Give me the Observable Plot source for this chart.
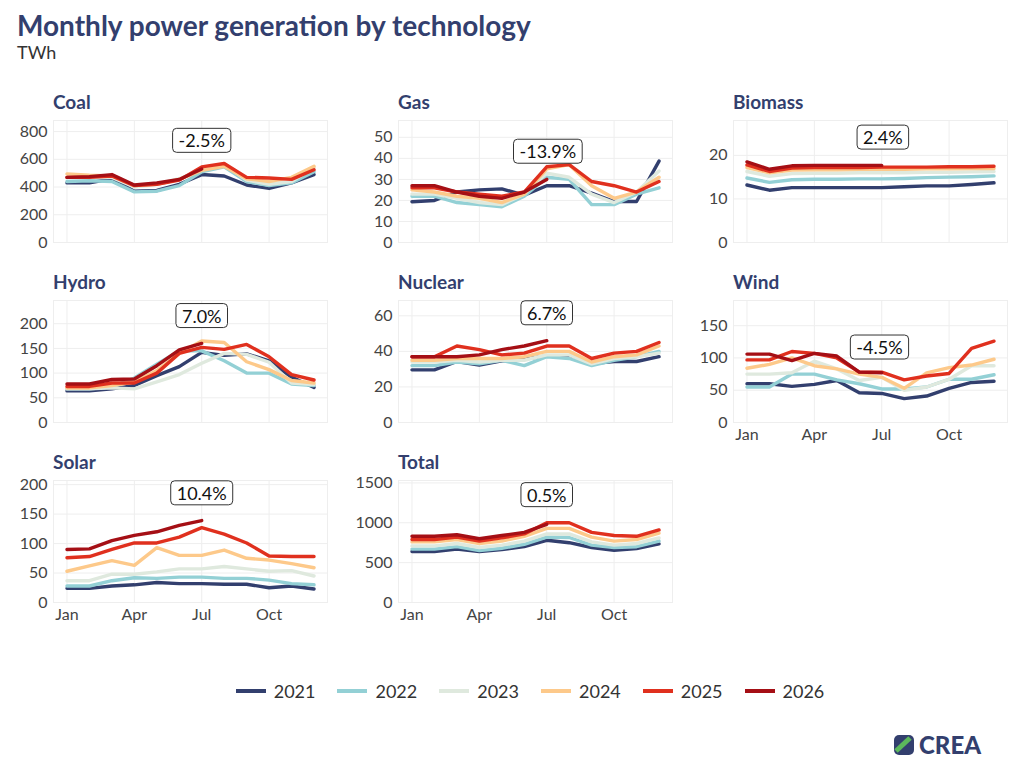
<!DOCTYPE html>
<html><head><meta charset="utf-8">
<script src="https://cdn.jsdelivr.net/npm/d3@7"></script>
<script src="https://cdn.jsdelivr.net/npm/@observablehq/plot@0.6"></script>
<style>
body{margin:0;background:#fff;font-family:Lato,"Noto Sans",sans-serif;}
#wrap{position:relative;width:1024px;height:768px;overflow:hidden;}
.abs{position:absolute;}
.ttl{font-weight:700;color:#333f6e;font-size:19px;}
</style></head><body>
<div id="wrap">
<div class="abs" style="left:17px;top:8px;font-size:28px;font-weight:700;color:#333f6e">Monthly power generation by technology</div>
<div class="abs" style="left:17px;top:41px;font-size:18px;color:#333">TWh</div>
<div id="legend" class="abs" style="left:0;width:1060px;top:680px;display:flex;justify-content:center;gap:22px;font-size:18px;color:#333"></div>
<div class="abs" style="left:893px;top:730px;display:flex;align-items:center;gap:4px;font-size:24px;font-weight:900;color:#333f6e"><svg width="22" height="22"><rect x="1" y="1" width="20" height="20" rx="5" fill="#333f6e"/><path d="M3 17 L17 4" stroke="#5cb85c" stroke-width="5"/></svg>CREA</div>
</div>
<script>
const years = ["2021","2022","2023","2024","2025","2026"];
const colors = ["#323f6e","#93d0d5","#dfe9de","#fdc98a","#e0301e","#a50f15"];
const months = ["Jan","Feb","Mar","Apr","May","Jun","Jul","Aug","Sep","Oct","Nov","Dec"];
const technologies = ["Coal","Gas","Biomass","Hydro","Nuclear","Wind","Solar","Total"];
const changeLabels = ["-2.5%","-13.9%","2.4%","7.0%","6.7%","-4.5%","10.4%","0.5%"];

const coal = [
 [430,430,460,370,375,420,490,480,415,390,430,490],
 [440,445,440,365,370,410,510,545,440,410,430,510],
 [470,470,470,400,420,460,530,560,450,420,440,540],
 [495,485,480,410,420,455,520,550,460,440,470,550],
 [470,470,480,410,420,450,545,570,470,465,455,525],
 [470,475,490,415,430,455,530]];
const gas = [
 [19.4,20,24,25,25.5,22.5,27,27,23.5,19.5,19.5,38.7],
 [22,22,19,18,17,22,31,30,18,18,23,26],
 [23,23,21,19,18,23,33,31,23,19,24,34],
 [25,24,22,21,19,23,35,37,27,21,24,31],
 [26,26,24,23,22,24,36,37,29,27,24,29],
 [27,27,24,22,21,24,30]];
const biomass = [
 [13.2,12,12.6,12.6,12.6,12.6,12.6,12.8,13,13,13.3,13.7],
 [14.8,13.8,14.4,14.5,14.5,14.6,14.6,14.7,14.9,15,15.1,15.3],
 [16.3,15.2,15.8,15.9,15.9,16,16,16,16.1,16.1,16.2,16.3],
 [17.2,16,16.6,16.7,16.7,16.8,16.8,16.8,16.9,16.9,17,17],
 [17.8,16.3,17.1,17.2,17.2,17.2,17.3,17.3,17.3,17.4,17.4,17.5],
 [18.5,16.8,17.6,17.7,17.7,17.7,17.7]];
const hydro = [
 [64,64,68,75,95,113,142,136,139,125,92,71],
 [68,68,72,90,118,145,145,125,100,100,78,75],
 [68,68,70,68,82,97,120,140,138,122,80,77],
 [70,70,75,82,105,140,165,162,123,107,85,80],
 [73,73,80,80,100,140,152,148,158,133,97,86],
 [78,78,87,88,115,147,160]];
const nuclear = [
 [29.6,29.6,34.3,32.3,34.7,35.6,37.5,37,33.2,34.3,34.3,37],
 [32,32,34,33,35,32,37,36,32,35,37,40],
 [34,34,35,34,35,35,38,38,33,36,37,39],
 [35,35,36,36,36,37,40,40,34,37,38,43],
 [37,37,43,41,38,39,43,43,36,39,40,45],
 [37,37,37,38,41,43,46]];
const wind = [
 [60,60,56,59,65,46,45,37,41,53,62,64],
 [55,55,75,75,66,60,52,52,55,67,67,74],
 [75,75,77,95,83,65,70,50,55,67,88,88],
 [84,90,100,88,83,75,70,53,77,85,89,98],
 [97,97,110,107,100,78,78,66,72,76,115,126],
 [106,106,96,107,103,78,77]];
const solar = [
 [24,24,28,30,34,32,32,31,31,25,28,23],
 [28,28,37,42,41,43,43,41,41,38,32,30],
 [37,37,48,48,52,57,57,61,57,53,54,45],
 [53,62,71,63,93,80,80,89,75,72,66,59],
 [76,78,90,101,101,111,127,116,101,79,78,78],
 [90,91,105,114,120,131,139]];
const total = [
 [640,640,670,640,665,700,780,750,690,655,675,735],
 [670,670,700,650,680,730,820,815,720,690,700,770],
 [710,710,740,690,720,770,860,860,760,720,740,810],
 [760,760,790,740,770,830,930,930,820,770,790,870],
 [790,790,820,770,810,860,1000,1000,880,840,830,910],
 [830,830,850,800,840,880,980]];
const seriesByTech = [coal,gas,biomass,hydro,nuclear,wind,solar,total];
const yTicks = [[0,200,400,600,800],[0,10,20,30,40,50],[0,10,20],[0,50,100,150,200],[0,20,40,60],[0,50,100,150],[0,50,100,150,200],[0,500,1000,1500]];

// layout
const yTop = [880,58,28,247,68.6,189,207,1530];
const labelAt = [[7,728],[7.05,42.8],[7.05,23.9],[7,214],[7,61],[6.9,115],[7,184],[7,1337]];
const colX = [0,345,680], rowY = [115,295,475];
const wrap = document.getElementById("wrap");

technologies.forEach((tech,i)=>{
  const col = i%3, row = Math.floor(i/3);
  const showX = (i===5||i===6||i===7);
  const data = [];
  seriesByTech[i].forEach((vals,k)=>vals.forEach((v,m)=>data.push({year:years[k],month:m+1,value:v})));
  const mb = showX?25:12;
  const plot = Plot.plot({
    width:340, height: 127 + mb,
    marginLeft:53, marginRight:13, marginTop:5, marginBottom: mb,
    style:{fontFamily:"Lato, 'Noto Sans', sans-serif", fontSize:"16px", color:"#444", background:"transparent", overflow:"visible"},
    x:{domain:[0.4,12.6], ticks:[1,4,7,10], tickFormat:d=>months[d-1], tickSize:0, label:null, axis: showX?"bottom":null, tickPadding:6},
    y:{domain:[0,yTop[i]], ticks:yTicks[i], tickFormat:"d", tickSize:0, label:null, tickPadding:6},
    color:{domain:years, range:colors},
    marks:[
      Plot.frame({stroke:"#eee"}),
      Plot.gridX([1,4,7,10],{stroke:"#eee",strokeOpacity:1}),
      Plot.gridY(yTicks[i],{stroke:"#eee",strokeOpacity:1}),
      Plot.line(data,{x:"month",y:"value",z:"year",stroke:"year",strokeWidth:3.4}),
      Plot.text([changeLabels[i]],{x:()=>labelAt[i][0],y:()=>labelAt[i][1],text:d=>d,fontSize:18,fill:"#111"})
    ]
  });
  const t = document.createElement("div");
  t.className="abs ttl"; t.textContent=tech;
  t.style.left=(colX[col]+53)+"px"; t.style.top=(rowY[row]-25)+"px";
  wrap.appendChild(t);
  plot.classList.add("abs");
  plot.style.left=colX[col]+"px"; plot.style.top=rowY[row]+"px";
  wrap.appendChild(plot);
  plot.querySelectorAll('g[aria-label="text"] text').forEach(tx=>{
    const b=tx.getBBox();
    const r=document.createElementNS("http://www.w3.org/2000/svg","rect");
    r.setAttribute("x",b.x-6);r.setAttribute("y",b.y-1);
    r.setAttribute("width",b.width+12);r.setAttribute("height",b.height+2);
    r.setAttribute("rx",4);r.setAttribute("fill","white");r.setAttribute("stroke","#333");
    const tr=tx.getAttribute("transform"); if(tr) r.setAttribute("transform",tr);
    tx.parentNode.insertBefore(r,tx);
  });
});

const lg=document.getElementById("legend");
years.forEach((y,k)=>{
  const it=document.createElement("div");
  it.style.display="flex";it.style.alignItems="center";it.style.gap="8px";
  it.innerHTML=`<svg width="30" height="6"><line x1="0" y1="3" x2="30" y2="3" stroke="${colors[k]}" stroke-width="4"/></svg>${y}`;
  lg.appendChild(it);
});
</script>
</body></html>
